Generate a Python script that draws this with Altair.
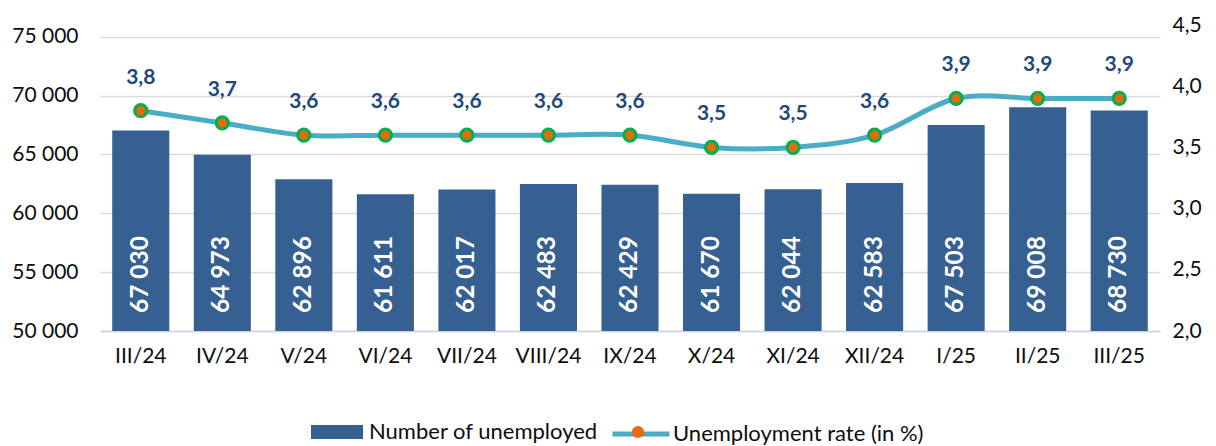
import altair as alt
import pandas as pd

months = ["III/24", "IV/24", "V/24", "VI/24", "VII/24", "VIII/24", "IX/24",
          "X/24", "XI/24", "XII/24", "I/25", "II/25", "III/25"]
unemployed = [67030, 64973, 62896, 61611, 62017, 62483, 62429,
              61670, 62044, 62583, 67503, 69008, 68730]
rate = [3.8, 3.7, 3.6, 3.6, 3.6, 3.6, 3.6, 3.5, 3.5, 3.6, 3.9, 3.9, 3.9]
left_ticks = [50000, 55000, 60000, 65000, 70000, 75000]
right_ticks = [2.0, 2.5, 3.0, 3.5, 4.0, 4.5]
series = ["Number of unemployed", "Unemployment rate (in %)"]

BAR = "#376092"
LINE = "#4BACC6"
DOT = "#E46C0A"
RING = "#00B050"
LABEL = "#1F497D"
TXT = "#0D0D0D"
FONT = "Lato"

df = pd.DataFrame({"month": months, "n": unemployed, "rate": rate})
df["s1"] = series[0]
df["s2"] = series[1]
df["s3"] = "marker"

x = alt.X("month:N", sort=months,
          scale=alt.Scale(paddingInner=0.3, paddingOuter=0.15),
          axis=alt.Axis(title=None, labelFont=FONT, labelFontSize=21, labelColor=TXT,
                        labelPadding=14, ticks=False, domainColor="#C9D6EA",
                        domainWidth=1.5, labelAngle=0))

yl_scale = alt.Scale(domain=[50000, 75000])
yl_axis = alt.Axis(title=None, values=left_ticks,
                   labelExpr="replace(format(datum.value, ','), ',', ' ')",
                   labelFont=FONT, labelFontSize=21, labelColor=TXT, labelPadding=22,
                   ticks=False, domain=False, grid=True, gridColor="#D9D9D9",
                   gridWidth=1.5)

yr_scale = alt.Scale(domain=[2.0, 4.5])
yr_axis = alt.Axis(title=None, orient="right", values=right_ticks,
                   labelExpr="replace(format(datum.value, '.1f'), '.', ',')",
                   labelFont=FONT, labelFontSize=21, labelColor=TXT, labelPadding=12,
                   ticks=False, domain=False, grid=False)

base = alt.Chart(df)

bars = base.mark_bar(color=BAR).encode(
    x=x,
    y=alt.Y("n:Q", scale=yl_scale, axis=yl_axis),
    y2=alt.datum(50000),
    color=alt.Color("s1:N", scale=alt.Scale(domain=[series[0]], range=[BAR]),
                    legend=alt.Legend(orient="none", legendX=211, legendY=381,
                                      title=None, padding=0, labelLimit=500,
                                      symbolType="M-1,-0.27L1,-0.27L1,0.27L-1,0.27Z",
                                      symbolSize=2704, symbolStrokeWidth=0,
                                      symbolOpacity=1,
                                      labelFont=FONT, labelFontSize=22,
                                      labelColor=TXT, labelOffset=6)),
)

bar_labels = base.mark_text(angle=270, align="left", baseline="middle", dx=18,
                            color="white", font=FONT, fontWeight="bold",
                            fontSize=24.5).encode(
    x=x,
    y=alt.datum(50000),
    text="lbl:N",
).transform_calculate(lbl="replace(format(datum.n, ','), ',', ' ')")

line = base.mark_line(interpolate="cardinal", strokeWidth=5).encode(
    x=x,
    y=alt.Y("rate:Q", scale=yr_scale, axis=yr_axis),
    stroke=alt.Stroke("s2:N", scale=alt.Scale(domain=[series[1]], range=[LINE]),
                      legend=alt.Legend(orient="none", legendX=510, legendY=378,
                                        title=None, padding=0, symbolType="stroke",
                                        labelLimit=500,
                                        symbolSize=3249, symbolStrokeWidth=5,
                                        labelFont=FONT, labelFontSize=22,
                                        labelColor=TXT, labelOffset=1)),
)

points = base.mark_point(filled=True, size=150, fill=DOT, stroke=RING,
                         strokeWidth=3, opacity=1).encode(
    x=x,
    y=alt.Y("rate:Q", scale=yr_scale, axis=yr_axis),
    shape=alt.Shape("s3:N", scale=alt.Scale(domain=["marker"], range=["circle"]),
                    legend=alt.Legend(orient="none", legendX=530, legendY=399,
                                      title=None, padding=0, symbolSize=150,
                                      symbolFillColor=DOT, symbolStrokeColor=RING,
                                      symbolStrokeWidth=3, symbolOpacity=1,
                                      labelExpr="''", labelFontSize=1)),
)

rate_labels = base.mark_text(dy=-33, baseline="middle", color=LABEL, font=FONT,
                             fontWeight="bold", fontSize=21).encode(
    x=x,
    y=alt.Y("rate:Q", scale=yr_scale, axis=yr_axis),
    text="rl:N",
).transform_calculate(rl="replace(format(datum.rate, '.1f'), '.', ',')")

left = alt.layer(bars, bar_labels)
right = alt.layer(line, points, rate_labels)

chart = alt.layer(left, right).resolve_scale(y="independent").properties(
    width=1060, height=306, autosize="none", background="white",
    padding={"left": 100, "top": 25, "right": 56, "bottom": 115},
).configure_view(stroke=None).configure_axisY(domain=False, ticks=False)

chart.save("out.html", embed_options={"renderer": "svg", "actions": False})
